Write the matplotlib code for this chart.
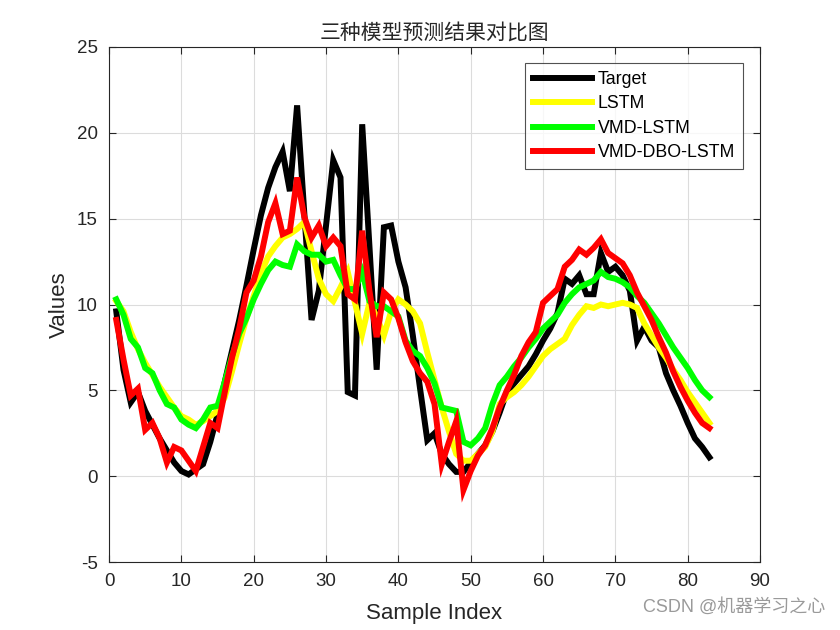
import matplotlib
matplotlib.use("Agg")
import matplotlib.pyplot as plt
import numpy as np

plt.rcParams["font.family"] = ["Liberation Sans", "Noto Sans CJK SC", "DejaVu Sans"]
plt.rcParams["axes.unicode_minus"] = False

# values, sample index 1..83
sample_index = list(range(1, 84))

target = [
    9.6, 6.2, 4.3, 4.9, 3.8, 3.0, 2.2, 1.5, 0.8, 0.3,
    0.1, 0.4, 0.7, 2.0, 3.6, 5.5, 7.3, 9.1, 11.1, 13.2,
    15.2, 16.8, 18.0, 18.9, 16.6, 21.6, 15.3, 9.1, 10.8, 14.6,
    18.4, 17.4, 4.9, 4.7, 20.5, 13.4, 6.2, 14.5, 14.6, 12.5,
    11.0, 8.2, 5.1, 2.1, 2.5, 1.3, 0.7, 0.25, 0.25, 0.8,
    1.3, 1.8, 2.6, 3.7, 4.9, 5.4, 5.9, 6.4, 7.1, 7.9,
    8.6, 9.5, 11.5, 11.2, 11.7, 10.6, 10.6, 13.0, 11.9, 12.2,
    11.7, 10.8, 7.9, 8.7, 7.9, 7.5, 6.0, 5.0, 4.1, 3.1,
    2.2, 1.7, 1.1,
]

lstm = [
    10.2, 9.6, 8.4, 7.4, 6.6, 5.9, 5.2, 4.6, 4.0, 3.5,
    3.3, 3.0, 3.2, 3.5, 3.8, 4.6, 6.1, 7.7, 9.2, 10.5,
    11.8, 12.8, 13.4, 13.9, 14.1, 14.4, 14.8, 13.1, 11.5, 10.6,
    10.2, 11.0, 11.9, 10.1, 8.3, 10.1, 9.3, 8.2, 9.6, 10.3,
    10.0, 9.6, 8.9, 7.2, 5.6, 4.0, 2.6, 1.3, 0.9, 0.9,
    1.3, 1.7, 2.6, 4.2, 4.6, 4.9, 5.3, 5.8, 6.4, 7.0,
    7.4, 7.7, 8.0, 8.8, 9.4, 9.9, 9.8, 10.0, 9.9, 10.0,
    10.1, 10.0, 9.8, 8.9, 8.2, 7.5, 6.9, 6.2, 5.6, 4.9,
    4.3, 3.7, 3.1,
]

vmd_lstm = [
    10.3, 9.4, 8.0, 7.5, 6.3, 6.0, 5.0, 4.2, 4.0, 3.3,
    3.0, 2.8, 3.3, 4.0, 4.1, 5.5, 7.0, 8.3, 9.2, 10.3,
    11.2, 12.0, 12.5, 12.3, 12.2, 13.5, 13.1, 12.9, 12.9, 12.5,
    12.6, 11.7, 10.9, 10.9, 11.9, 10.2, 9.9, 9.9, 9.6, 9.3,
    7.9, 7.3, 7.0, 6.3, 5.4, 4.0, 3.9, 3.8, 2.0, 1.8,
    2.2, 2.8, 4.2, 5.3, 5.8, 6.4, 6.9, 7.5, 8.0, 8.6,
    9.0, 9.4, 10.1, 10.6, 11.0, 11.2, 11.4, 11.9, 11.6, 11.5,
    11.3, 11.0, 10.5, 10.1, 9.5, 8.9, 8.2, 7.5, 6.9, 6.3,
    5.6, 5.0, 4.6,
]

vmd_dbo_lstm = [
    9.1, 6.8, 4.7, 5.1, 2.7, 3.1, 2.2, 0.8, 1.7, 1.5,
    0.9, 0.3, 1.7, 3.1, 2.8, 4.9, 6.9, 8.6, 10.7, 11.4,
    12.8, 14.8, 15.9, 14.1, 14.3, 17.4, 15.1, 13.9, 14.6, 13.4,
    13.9, 13.4, 10.6, 10.3, 14.3, 10.8, 8.1, 10.7, 10.3, 9.2,
    7.8, 6.7, 6.0, 5.5, 4.2, 0.7, 2.0, 3.2, -0.8, 0.3,
    1.2, 1.8, 2.8, 4.0, 5.0, 5.9, 7.0, 7.8, 8.4, 10.1,
    10.5, 10.9, 12.2, 12.6, 13.2, 12.9, 13.3, 13.8, 13.0, 12.7,
    12.4, 11.7, 10.7, 9.9, 9.1, 8.1, 7.2, 6.1, 5.2, 4.4,
    3.7, 3.1, 2.8,
]

series = [
    ("Target", target, "#000000"),
    ("LSTM", lstm, "#ffff00"),
    ("VMD-LSTM", vmd_lstm, "#00ff00"),
    ("VMD-DBO-LSTM", vmd_dbo_lstm, "#ff0000"),
]

fig = plt.figure(figsize=(8.4, 6.3), dpi=100)
ax = fig.add_axes([0.1298, 0.1079, 0.775, 0.8175])

for name, vals, color in series:
    ax.plot(sample_index, vals, color=color, linewidth=4.3, label=name,
            solid_joinstyle="miter")

ax.set_xlim(0, 90)
ax.set_ylim(-5, 25)
ax.set_xticks(np.arange(0, 91, 10))
ax.set_yticks(np.arange(-5, 26, 5))
ax.grid(True, color="#dcdcdc", linewidth=0.8)
ax.set_axisbelow(True)
ax.tick_params(direction="in", top=True, right=True, labelsize=13.5,
               length=5, width=0.8, colors="#262626")
ax.tick_params(axis="x", pad=8)
ax.tick_params(axis="y", pad=8)
for sp in ax.spines.values():
    sp.set_color("#262626")
    sp.set_linewidth(0.8)

ax.set_xlabel("Sample Index", fontsize=16, color="#262626", labelpad=9)
ax.set_ylabel("Values", fontsize=16, color="#262626", labelpad=5)
ax.set_title("三种模型预测结果对比图", fontsize=15, color="#262626",
             family=["Noto Sans CJK SC", "DejaVu Sans"], pad=6)

leg = ax.legend(loc="upper right", bbox_to_anchor=(0.974, 0.969),
                borderaxespad=0, fontsize=12.8, frameon=True, fancybox=False,
                edgecolor="#262626", handlelength=3.3, handletextpad=0.35,
                labelspacing=0.42, borderpad=0.45)
leg.get_frame().set_linewidth(0.8)

fig.text(0.982, 0.022, "CSDN @机器学习之心", ha="right", va="bottom",
         fontsize=13, color="#9a9a9a",
         family=["Liberation Sans", "Noto Sans CJK SC"])

fig.savefig("out.png", dpi=100)
